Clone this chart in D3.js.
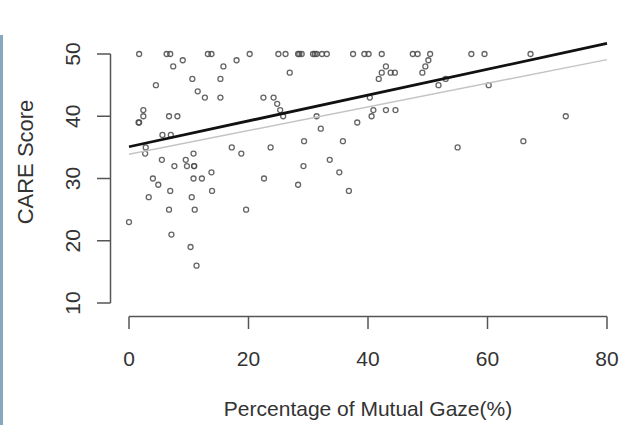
<!DOCTYPE html>
<html>
<head>
<meta charset="utf-8">
<script src="https://cdn.jsdelivr.net/npm/d3@7"></script>
<style>
  body { margin: 0; background: #fff; }
  text { font-family: "Liberation Sans", Arial, sans-serif; fill: #333; }
</style>
</head>
<body>
<div id="chart"></div>
<script>
// Percentage of mutual gaze (x) and CARE score (y)
var gazeValues = [
  1.7, 6.3, 6.9, 13.2, 13.8, 20.2, 25.0, 26.2, 28.3, 28.5, 28.9, 30.8, 31.1, 31.4,
  32.3, 33.1, 37.5, 39.4, 40.1, 42.3, 47.5, 48.3, 50.4, 57.3, 59.5, 67.2,
  9.0, 18.0, 50.1,
  7.4, 15.8, 43.0, 49.6,
  26.9, 42.3, 43.8, 44.5, 49.1,
  10.6, 15.3, 41.8, 53.0,
  4.5, 51.8, 60.2,
  11.5,
  12.7, 15.3, 22.5, 24.2, 40.3,
  24.8,
  2.4, 25.3, 40.9, 43.0, 44.6,
  2.4, 6.7, 8.1, 25.8, 31.4, 40.6, 73.1,
  1.6, 1.7, 38.2,
  32.1,
  5.6, 7.0,
  29.3, 35.8, 66.0,
  2.8, 17.2, 23.7, 55.0,
  2.7, 10.8, 18.8,
  5.5, 9.5, 33.6,
  7.6, 9.7, 10.9, 10.9, 29.2,
  13.8, 35.2,
  4.0, 10.8, 12.2, 22.6,
  4.9, 28.3,
  6.9, 13.9, 36.8,
  3.3, 10.5,
  6.7, 11.0, 19.6,
  0.0,
  7.1,
  10.3,
  11.3
];
var careValues = [
  50, 50, 50, 50, 50, 50, 50, 50, 50, 50, 50, 50, 50, 50,
  50, 50, 50, 50, 50, 50, 50, 50, 50, 50, 50, 50,
  49, 49, 49,
  48, 48, 48, 48,
  47, 47, 47, 47, 47,
  46, 46, 46, 46,
  45, 45, 45,
  44,
  43, 43, 43, 43, 43,
  42,
  41, 41, 41, 41, 41,
  40, 40, 40, 40, 40, 40, 40,
  39, 39, 39,
  38,
  37, 37,
  36, 36, 36,
  35, 35, 35, 35,
  34, 34, 34,
  33, 33, 33,
  32, 32, 32, 32, 32,
  31, 31,
  30, 30, 30, 30,
  29, 29,
  28, 28, 28,
  27, 27,
  25, 25, 25,
  23,
  21,
  19,
  16
];

// fitted lines: black (thick) and light grey
var lineIntercepts = [35.1, 33.9];
var lineSlopes = [0.2075, 0.19];
var lineColors = ['#111', '#c4c4c4'];
var lineWidths = [2.8, 1.4];

var xTicks = [0, 20, 40, 60, 80];
var yTicks = [10, 20, 30, 40, 50];

var svg = d3.select('#chart').append('svg')
  .attr('width', 623)
  .attr('height', 425);

// thin blue bar on the left edge of the screenshot
svg.append('rect')
  .attr('x', 0)
  .attr('y', 35)
  .attr('width', 3)
  .attr('height', 390)
  .attr('fill', '#86a9bd');

var x = d3.scaleLinear().domain([0, 80]).range([129, 607]);
var y = d3.scaleLinear().domain([10, 50]).range([303, 54]);

var axisColor = '#555';

// y axis, R style: line spans the tick range only
svg.append('line')
  .attr('x1', 110.5).attr('x2', 110.5)
  .attr('y1', y(10)).attr('y2', y(50))
  .attr('stroke', axisColor).attr('stroke-width', 1.5);

svg.selectAll('.ytick')
  .data(yTicks)
  .enter().append('line')
    .attr('class', 'ytick')
    .attr('x1', 97).attr('x2', 110.5)
    .attr('y1', function(d) { return y(d); })
    .attr('y2', function(d) { return y(d); })
    .attr('stroke', axisColor).attr('stroke-width', 1.5);

svg.selectAll('.ylabel')
  .data(yTicks)
  .enter().append('text')
    .attr('class', 'ylabel')
    .attr('transform', function(d) { return 'translate(80,' + y(d) + ') rotate(-90)'; })
    .attr('text-anchor', 'middle')
    .attr('font-size', 21)
    .text(function(d) { return d; });

// x axis
svg.append('line')
  .attr('x1', x(0)).attr('x2', x(80))
  .attr('y1', 316.5).attr('y2', 316.5)
  .attr('stroke', axisColor).attr('stroke-width', 1.5);

svg.selectAll('.xtick')
  .data(xTicks)
  .enter().append('line')
    .attr('class', 'xtick')
    .attr('x1', function(d) { return x(d); })
    .attr('x2', function(d) { return x(d); })
    .attr('y1', 316.5).attr('y2', 329)
    .attr('stroke', axisColor).attr('stroke-width', 1.5);

svg.selectAll('.xlabel')
  .data(xTicks)
  .enter().append('text')
    .attr('class', 'xlabel')
    .attr('x', function(d) { return x(d); })
    .attr('y', 366)
    .attr('text-anchor', 'middle')
    .attr('font-size', 21)
    .text(function(d) { return d; });

// axis titles
svg.append('text')
  .attr('x', x(40))
  .attr('y', 416)
  .attr('text-anchor', 'middle')
  .attr('font-size', 21)
  .text('Percentage of Mutual Gaze(%)');

svg.append('text')
  .attr('transform', 'translate(33,162) rotate(-90)')
  .attr('text-anchor', 'middle')
  .attr('font-size', 22)
  .text('CARE Score');

// points
var points = gazeValues.map(function(g, i) {
  return { gaze: g, care: careValues[i] };
});

svg.selectAll('.pt')
  .data(points)
  .enter().append('circle')
    .attr('class', 'pt')
    .attr('cx', function(d) { return x(d.gaze); })
    .attr('cy', function(d) { return y(d.care); })
    .attr('r', 2.5)
    .attr('fill', 'none')
    .attr('stroke', '#4a4a4a')
    .attr('stroke-width', 1.3)
    .attr('opacity', 0.85);

// fitted lines, drawn across 0..80
var fits = lineIntercepts.map(function(a, i) {
  return { a: a, b: lineSlopes[i], color: lineColors[i], w: lineWidths[i] };
});

svg.selectAll('.fit')
  .data(fits.slice().reverse())
  .enter().append('line')
    .attr('class', 'fit')
    .attr('x1', x(0))
    .attr('x2', x(80))
    .attr('y1', function(d) { return y(d.a); })
    .attr('y2', function(d) { return y(d.a + d.b * 80); })
    .attr('stroke', function(d) { return d.color; })
    .attr('stroke-width', function(d) { return d.w; });
</script>
</body>
</html>
